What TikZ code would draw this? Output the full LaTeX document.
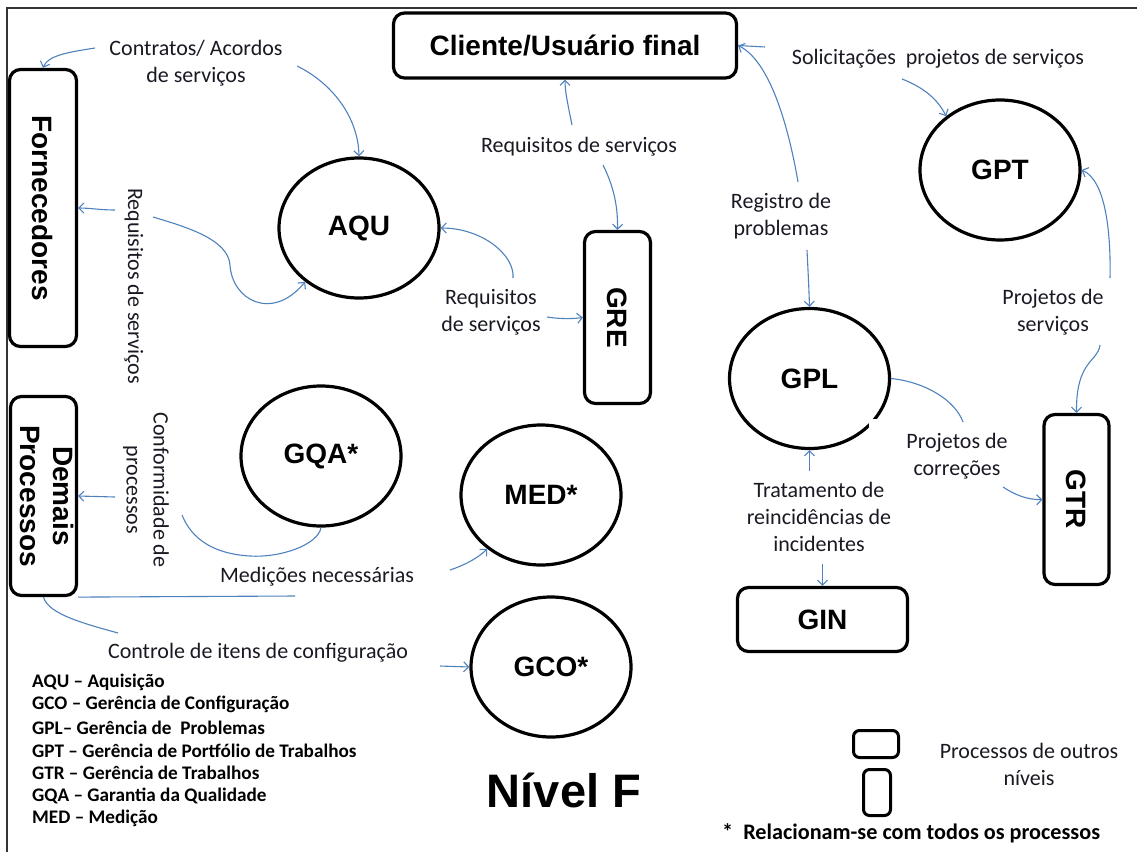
\documentclass[tikz,border=0pt]{standalone}
\usepackage{fontspec}
\usepackage{graphicx}
\setmainfont{Carlito}
\newfontfamily\headfont{Liberation Sans}
\usetikzlibrary{shapes.geometric,arrows.meta}
\definecolor{flow}{RGB}{79,129,189}
\definecolor{ink}{RGB}{25,25,35}

\begin{document}
\begin{tikzpicture}[x=1pt,y=-1pt,
  proc/.style={ellipse, draw, line width=3.2pt, minimum width=160pt, minimum height=140pt,
    inner sep=0pt, font=\headfont\bfseries\fontsize{28}{33}\selectfont},
  extbox/.style={draw, rounded corners=11pt, line width=3.2pt, inner sep=0pt,
    font=\headfont\bfseries\fontsize{28}{33}\selectfont},
  keybox/.style={draw, rounded corners=6pt, line width=3pt, inner sep=0pt},
  lbl/.style={text=ink, align=center, inner sep=0pt, font=\fontsize{22}{27}\selectfont},
  legend/.style={anchor=west, inner sep=0pt, font=\bfseries\fontsize{19.2}{22}\selectfont},
  flowline/.style={draw=flow, line width=1.1pt},
  flowarrow/.style={flowline, -{Straight Barb[length=5pt,width=10pt]}},
]
\useasboundingbox (0,0) rectangle (1137,852);

% page frame (top and left rules)
\draw[line width=1.5pt, black!80] (7,852) -- (7,8) -- (1137,8);

% processes of other levels
\node[extbox, minimum width=343pt, minimum height=65pt] (cli) at (565,45.5) {Cliente/Usuário final};
\node[extbox, minimum width=67pt, minimum height=277pt] (forn) at (43,208) {\rotatebox{-90}{Fornecedores}};
\node[extbox, minimum width=64pt, minimum height=199pt] (dem) at (43.5,496)
  {\rotatebox{-90}{\begin{tabular}{@{}c@{}}Demais\\Processos\end{tabular}}};
\node[extbox, minimum width=66pt, minimum height=172pt] (gre) at (617.5,317.5) {\rotatebox{-90}{GRE}};
\node[extbox, minimum width=65pt, minimum height=170pt] (gtr) at (1076.5,499.5) {\rotatebox{-90}{GTR}};
\node[extbox, minimum width=170pt, minimum height=64pt] (gin) at (822.5,619.5) {GIN};

% level F processes
\node[proc] (aqu) at (359,228) {AQU};
\node[proc] (gpt) at (1000,170) {GPT};
\node[proc] (gpl) at (809.5,378.5) {GPL};
\node[proc] (gqa) at (321,456) {GQA*};
\node[proc] (med) at (541,495) {MED*};
\node[proc] (gco) at (551,667) {GCO*};
\fill[white] (869,419) rectangle (877,428);

% flow labels
\node[lbl] (lcontr) at (196,63.5) {Contratos/ Acordos\\de serviços};
\node[lbl] (lreqtop) at (579,147) {Requisitos de serviços};
\node[lbl] (lsolic) at (938,59) {Solicitações~ projetos de serviços};
\node[lbl] (lreg) at (781,216) {Registro de\\problemas};
\node[lbl] (lprojs) at (1053,312) {Projetos de\\serviços};
\node[lbl] (lreqmid) at (491,312) {Requisitos\\de serviços};
\node[lbl, rotate=-90] (lreqv) at (134,286) {Requisitos de serviços};
\node[lbl, rotate=-90] (lconf) at (146,490) {Conformidade de\\processos};
\node[lbl] (lmed) at (317,577) {Medições necessárias};
\node[lbl] (lctrl) at (258,653) {Controle de itens de configuração};
\node[lbl] (lcorr) at (957,456) {Projetos de\\correções};
\node[lbl] (ltrat) at (819,517) {Tratamento de\\reincidências de\\incidentes};

% connector ends at the labels
\coordinate (c1a) at (95,48);
\coordinate (c1b) at (297,66);
\coordinate (rv1) at (115,210);
\coordinate (rv2) at (153,217);
\coordinate (rt1) at (572,125);
\coordinate (rt2) at (603,165);
\coordinate (rm1) at (513,278);
\coordinate (rm2) at (547,317);
\coordinate (rg1) at (798,182);
\coordinate (stub) at (765,47);
\coordinate (rg2) at (807,250);
\coordinate (sol) at (902,79);
\coordinate (ps1) at (1110,278);
\coordinate (ps2) at (1100,345);
\coordinate (pc1) at (963,422);
\coordinate (pc2) at (1003,487);
\coordinate (tr1) at (809.5,471);
\coordinate (tr2) at (822.5,564);
\coordinate (cf1) at (182,515);
\coordinate (cf2) at (115,497);
\coordinate (mline) at (295,596);
\coordinate (md1) at (450,570);
\coordinate (ct1) at (118,633);
\coordinate (ct2) at (440,666);

% flows
\draw[flowarrow] (c1a) .. controls (70,52) and (48,55) .. (forn.north);
\draw[flowarrow] (c1b) .. controls (330,82) and (358,115) .. (aqu.north);
\draw[flowarrow] (rv1) .. controls (100,210) and (90,208) .. (forn.east);
\draw[flowarrow] (rv2) .. controls (190,228) and (228,240) .. (230,265)
  .. controls (232,300) and (272,322) .. (aqu.225);
\draw[flowarrow] (rt1) .. controls (568,105) and (565,92) .. (cli.south);
\draw[flowarrow] (rt2) .. controls (613,185) and (618,205) .. (gre.north);
\draw[flowarrow] (rm1) .. controls (515,255) and (482,228) .. (aqu.east);
\draw[flowarrow] (rm2) .. controls (560,319) and (572,319) .. (gre.west);
\draw[flowarrow] (rg1) .. controls (790,135) and (772,62) .. (cli.east);
\draw[flowline] (stub) -- (cli.east);
\draw[flowarrow] (rg2) .. controls (808,270) and (809,290) .. (gpl.north);
\draw[flowarrow] (sol) .. controls (925,88) and (938,100) .. (gpt.135);
\draw[flowarrow] (ps1) .. controls (1111,230) and (1105,180) .. (gpt.east);
\draw[flowarrow] (ps2) .. controls (1098,362) and (1076,360) .. (gtr.north);
\draw[flowline] (gpl.east) .. controls (925,382) and (955,400) .. (pc1);
\draw[flowarrow] (pc2) .. controls (1015,495) and (1028,500) .. (gtr.west);
\draw[flowarrow] (tr1) -- (gpl.south);
\draw[flowarrow] (tr2) -- (gin.north);
\draw[flowline] (gqa.south) .. controls (318,545) and (280,558) .. (250,556)
  .. controls (215,554) and (192,540) .. (cf1);
\draw[flowarrow] (cf2) -- (dem.east);
\draw[flowline] (dem.south east) -- (mline);
\draw[flowarrow] (md1) .. controls (465,565) and (478,558) .. (med.225);
\draw[flowline] (dem.south) .. controls (48,615) and (90,625) .. (ct1);
\draw[flowarrow] (ct2) -- (gco.west);

% abbreviations
\node[legend] (k1) at (32,682) {AQU – Aquisição};
\node[legend] (k2) at (32,704.8) {GCO – Gerência de Configuração};
\node[legend] (k3) at (32,727.6) {GPL– Gerência de~ Problemas};
\node[legend] (k4) at (32,750.4) {GPT – Gerência de Portfólio de Trabalhos};
\node[legend] (k5) at (32,773.2) {GTR – Gerência de Trabalhos};
\node[legend] (k6) at (32,796) {GQA – Garantia da Qualidade};
\node[legend] (k7) at (32,818.8) {MED – Medição};

\node[inner sep=0pt, font=\headfont\bfseries\fontsize{47}{50}\selectfont] (level) at (564,790) {Nível F};

% key
\node[keybox, minimum width=45pt, minimum height=27pt] (keyh) at (876,744) {};
\node[keybox, minimum width=27pt, minimum height=46pt] (keyv) at (877,792.5) {};
\node[lbl] (lkey) at (1029,764) {Processos de outros\\níveis};
\node[anchor=west, inner sep=0pt, font=\bfseries\fontsize{22.2}{26}\selectfont] (note) at (722,833)
  {*~ Relacionam-se com todos os processos};
\end{tikzpicture}
\end{document}
